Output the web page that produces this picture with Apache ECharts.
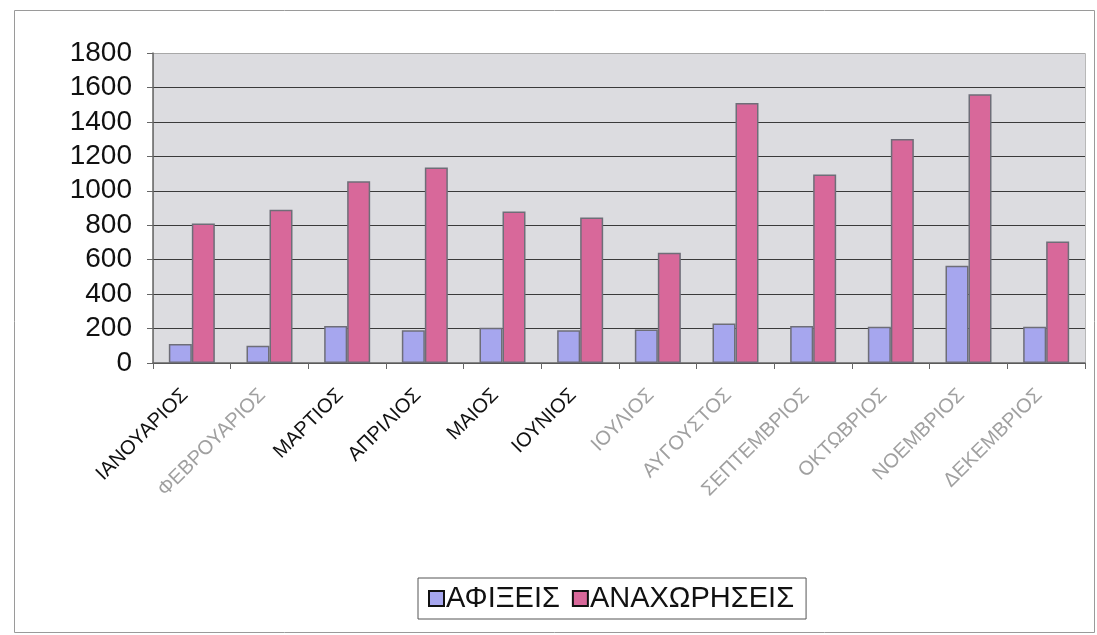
<!DOCTYPE html>
<html>
<head>
<meta charset="utf-8">
<script src="https://cdn.jsdelivr.net/npm/echarts@6/dist/echarts.min.js"></script>
<style>
  html, body { margin: 0; padding: 0; background: #fff; }
  #chart { width: 1097px; height: 635px; }
</style>
</head>
<body>
<div id="chart"></div>
<script>
// μήνες
var months = ['ΙΑΝΟΥΑΡΙΟΣ', 'ΦΕΒΡΟΥΑΡΙΟΣ', 'ΜΑΡΤΙΟΣ', 'ΑΠΡΙΛΙΟΣ', 'ΜΑΙΟΣ', 'ΙΟΥΝΙΟΣ',
  'ΙΟΥΛΙΟΣ', 'ΑΥΓΟΥΣΤΟΣ', 'ΣΕΠΤΕΜΒΡΙΟΣ', 'ΟΚΤΩΒΡΙΟΣ', 'ΝΟΕΜΒΡΙΟΣ', 'ΔΕΚΕΜΒΡΙΟΣ'];
// faded labels in the scan
var fadedLabels = [false, true, false, false, false, false, true, true, true, true, true, true];
var afixeis = [110, 100, 215, 190, 205, 190, 195, 230, 215, 210, 565, 210];
var anaxoriseis = [810, 890, 1055, 1135, 880, 845, 640, 1510, 1095, 1300, 1560, 705];
var yTicks = [0, 200, 400, 600, 800, 1000, 1200, 1400, 1600, 1800];

var myChart = echarts.init(document.getElementById('chart'));

var catData = months.map(function (m, i) {
  return { value: m, textStyle: { color: fadedLabels[i] ? '#a0a0a0' : '#111' } };
});

// γραμμές πλέγματος: η πάνω (1800) πιο ανοιχτή
var gridColors = yTicks.map(function (v) { return v === 1800 ? '#a8a8a8' : '#3a3a3a'; });

var option = {
  backgroundColor: '#fff',
  animation: false,
  textStyle: { fontFamily: 'Liberation Sans, Arial, sans-serif' },
  graphic: [
    // outer frame of the chart area
    { type: 'rect', left: 12, top: 8, shape: { width: 1080, height: 622 },
      style: { fill: 'none', stroke: '#9a9a9a', lineWidth: 1 } },
    // grey plot background
    { type: 'rect', left: 153, top: 53, z: -1, shape: { width: 932, height: 310 },
      style: { fill: '#dcdce0', stroke: '#b8b8b8', lineWidth: 1 } }
  ],
  grid: { left: 153, right: 12, top: 53, bottom: 272, containLabel: false },
  legend: {
    data: ['ΑΦΙΞΕΙΣ', 'ΑΝΑΧΩΡΗΣΕΙΣ'],
    left: 418,
    top: 578,
    itemWidth: 15,
    itemHeight: 15,
    itemGap: 12,
    icon: 'rect',
    itemStyle: { borderColor: '#111', borderWidth: 2 },
    borderColor: '#555',
    borderWidth: 1,
    borderRadius: 0,
    padding: [6, 12, 6, 10],
    textStyle: { fontSize: 29, color: '#111', padding: [0, 0, 0, -3] }
  },
  xAxis: {
    type: 'category',
    data: catData,
    axisLine: { lineStyle: { color: '#666', width: 1.5 } },
    axisTick: { show: true, length: 6, alignWithLabel: false, lineStyle: { color: '#666' } },
    axisLabel: { rotate: 45, fontSize: 20, margin: 22, interval: 0, padding: [0, 10, 0, 0] },
    splitLine: { show: false }
  },
  yAxis: {
    type: 'value',
    min: 0,
    max: 1800,
    interval: 200,
    axisLine: { show: true, lineStyle: { color: '#666', width: 1.5 } },
    axisTick: { show: true, length: 6, lineStyle: { color: '#666' } },
    axisLabel: {
      fontSize: 28, color: '#111', margin: 21,
      formatter: function (v) { return yTicks.indexOf(v) >= 0 ? String(v) : ''; }
    },
    splitLine: { show: true, lineStyle: { color: gridColors, width: 1.2 } }
  },
  series: [
    {
      name: 'ΑΦΙΞΕΙΣ',
      type: 'bar',
      data: afixeis,
      barWidth: 23,
      barGap: '0%',
      itemStyle: { color: '#a6a6ee', borderColor: '#6e6e78', borderWidth: 1.5 }
    },
    {
      name: 'ΑΝΑΧΩΡΗΣΕΙΣ',
      type: 'bar',
      data: anaxoriseis,
      barWidth: 23,
      barGap: '0%',
      itemStyle: { color: '#d8689a', borderColor: '#6e6e78', borderWidth: 1.5 }
    }
  ]
};

myChart.setOption(option);
</script>
</body>
</html>
